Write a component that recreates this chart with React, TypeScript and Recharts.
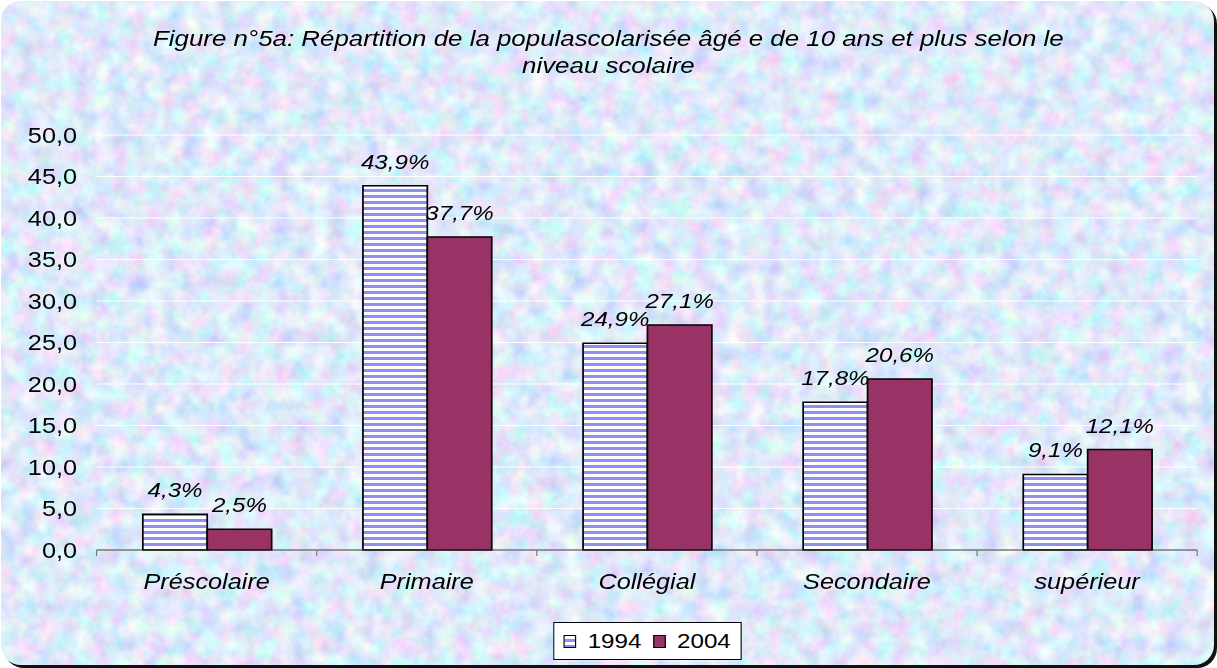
import React from "react";
import {
  BarChart,
  Bar,
  XAxis,
  YAxis,
  CartesianGrid,
  Legend,
  LabelList,
} from "recharts";

const categories = ["Préscolaire", "Primaire", "Collégial", "Secondaire", "supérieur"];
const values1994 = [4.3, 43.9, 24.9, 17.8, 9.1];
const values2004 = [2.5, 37.7, 27.1, 20.6, 12.1];
const yTicks = [0, 5, 10, 15, 20, 25, 30, 35, 40, 45, 50];

const data = categories.map((c, i) => ({
  name: c,
  y1994: values1994[i],
  y2004: values2004[i],
}));

// the original picture is stretched sideways, so the chart is drawn narrower and scaled
const STRETCH = 1.15;
const W = 1058;
const H = 668;

const FONT = "'Liberation Sans', Arial, sans-serif";

const noise =
  "url(\"data:image/svg+xml;utf8,<svg xmlns='http://www.w3.org/2000/svg' width='1217' height='668'>" +
  "<filter id='n'><feTurbulence type='fractalNoise' baseFrequency='0.055' numOctaves='3' seed='7'/>" +
  "<feColorMatrix values='0.75 0 0 0 0.36  0 0.6 0 0 0.52  0 0 0.25 0 0.83  0 0 0 0 1'/></filter>" +
  "<rect width='100%25' height='100%25' filter='url(%23n)'/></svg>\")";

const fmtAxis = (v: number) => v.toFixed(1).replace(".", ",");
const fmtPct = (v: any) => Number(v).toFixed(1).replace(".", ",") + "%";

const CatTick = (props: any) => {
  const { x, y, payload, index, visibleTicksCount } = props;
  const half = payload && payload.offset ? payload.offset : 95.65;
  const last = index === visibleTicksCount - 1;
  return (
    <g>
      <line x1={x - half} x2={x - half} y1={y} y2={y + 6} stroke="#777" />
      {last && <line x1={x + half} x2={x + half} y1={y} y2={y + 6} stroke="#777" />}
      <text
        x={x}
        y={y + 39}
        textAnchor="middle"
        fontStyle="italic"
        fontSize={22}
        fill="#000"
      >
        {payload.value}
      </text>
    </g>
  );
};

const LegendBox = () => (
  <div
    style={{
      width: 162,
      height: 36,
      background: "#fff",
      border: "1px solid #000",
      display: "flex",
      alignItems: "center",
      fontSize: 21,
      color: "#000",
      fontFamily: FONT,
    }}
  >
    <span
      style={{
        display: "inline-block",
        width: 9,
        height: 11,
        marginLeft: 8,
        border: "1px solid #000",
        background:
          "repeating-linear-gradient(180deg, #fff 0px, #fff 3px, #8f8ff2 3px, #8f8ff2 6px)",
      }}
    />
    <span style={{ marginLeft: 10 }}>1994</span>
    <span
      style={{
        display: "inline-block",
        width: 9,
        height: 11,
        marginLeft: 10,
        border: "1px solid #000",
        background: "#993366",
      }}
    />
    <span style={{ marginLeft: 10 }}>2004</span>
  </div>
);

export default function App() {
  return (
    <div
      style={{
        position: "absolute",
        left: 0,
        top: 0,
        width: 1217,
        height: 668,
        background: "#fff",
        overflow: "hidden",
        fontFamily: FONT,
      }}
    >
      <div
        style={{
          position: "absolute",
          left: 1,
          top: 1,
          width: 1213,
          height: 664,
          borderRadius: 20,
          backgroundImage: noise,
          backgroundColor: "#bccdf0",
          boxShadow: "3px 3px 0 #111",
        }}
      />
      <div
        style={{
          position: "absolute",
          left: 0,
          top: 0,
          width: W,
          height: H,
          transform: `scaleX(${STRETCH})`,
          transformOrigin: "0 0",
        }}
      >
        <div
          style={{
            position: "absolute",
            left: 0,
            top: 25,
            width: W,
            textAlign: "center",
            fontStyle: "italic",
            fontSize: 22.5,
            lineHeight: "27px",
            color: "#000",
          }}
        >
          Figure n°5a: Répartition de la populascolarisée âgé e de 10 ans et plus selon le
          <br />
          niveau scolaire
        </div>
        <BarChart
          width={W}
          height={H}
          data={data}
          margin={{ top: 135, right: 17, bottom: 88, left: 0 }}
          barCategoryGap="21%"
          barGap={0}
          style={{ position: "absolute", left: 0, top: 0 }}
        >
          <defs>
            <pattern id="stripes" width="8" height="6" patternUnits="userSpaceOnUse">
              <rect x="0" y="0" width="8" height="6" fill="#ffffff" />
              <rect x="0" y="3" width="8" height="3" fill="#8f8ff2" />
            </pattern>
          </defs>
          <CartesianGrid vertical={false} stroke="#ffffff" strokeWidth={1} />
          <XAxis
            dataKey="name"
            height={30}
            axisLine={{ stroke: "#333" }}
            tickLine={false}
            tickSize={0}
            tickMargin={0}
            interval={0}
            tick={<CatTick />}
          />
          <YAxis
            width={84}
            domain={[0, 50]}
            ticks={yTicks}
            tickFormatter={fmtAxis}
            axisLine={false}
            tickLine={false}
            tickSize={0}
            tickMargin={17}
            tick={{ fill: "#000", fontSize: 22 }}
          />
          <Legend
            layout="horizontal"
            verticalAlign="middle"
            align="center"
            content={<LegendBox />}
            wrapperStyle={{ position: "absolute", left: 481, top: 622, width: 164, height: 38 }}
          />
          <Bar
            dataKey="y1994"
            name="1994"
            fill="url(#stripes)"
            stroke="#000"
            strokeWidth={1.5}
            isAnimationActive={false}
          >
            <LabelList
              dataKey="y1994"
              position="top"
              offset={17}
              formatter={fmtPct}
              style={{ fontStyle: "italic", fontSize: 21, fill: "#000" }}
            />
          </Bar>
          <Bar
            dataKey="y2004"
            name="2004"
            fill="#993366"
            stroke="#000"
            strokeWidth={1.5}
            isAnimationActive={false}
          >
            <LabelList
              dataKey="y2004"
              position="top"
              offset={17}
              formatter={fmtPct}
              style={{ fontStyle: "italic", fontSize: 21, fill: "#000" }}
            />
          </Bar>
        </BarChart>
      </div>
    </div>
  );
}
